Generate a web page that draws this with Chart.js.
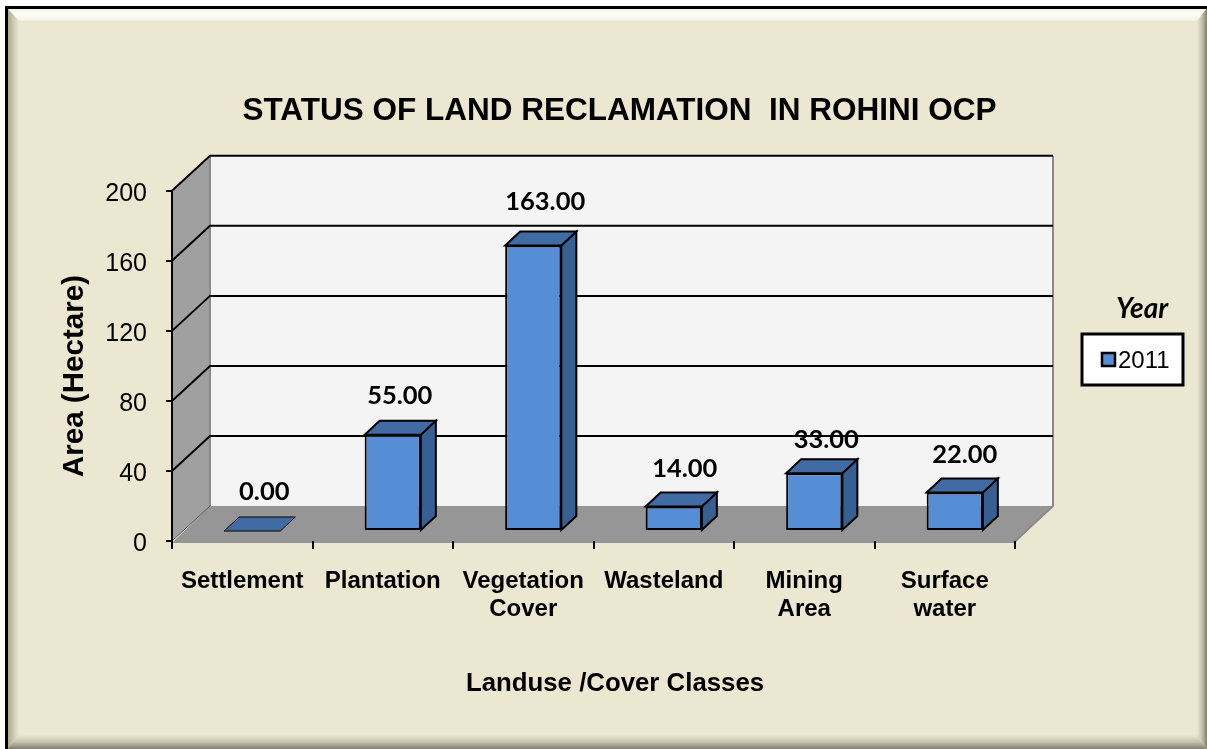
<!DOCTYPE html>
<html>
<head>
<meta charset="utf-8">
<style>
  body { margin: 0; background: #fff; }
  canvas { display: block; }
</style>
<script src="https://cdn.jsdelivr.net/npm/chart.js@4"></script>
</head>
<body>
<canvas id="myChart" width="1207" height="749"></canvas>
<script>
const categories = [['Settlement'], ['Plantation'], ['Vegetation', 'Cover'], ['Wasteland'], ['Mining', 'Area'], ['Surface', 'water']];
const seriesName = '2011';
const areaValues = [0, 55, 163, 14, 33, 22];
const yMax = 200;
const yStep = 40;

const sans = '"Liberation Sans", Arial, sans-serif';
const wallDepth = { x: 38, y: 35 };
const barDepth = { x: 15, y: 14 };
const barShift = { x: 10, y: -10 };
const labelNudgeX = [1, -4, 1, 0, 1, -1];
const labelNudgeY = [0, 0, -5, 1, 6, 1];

function poly(c, pts, fill, stroke, lw) {
  c.beginPath();
  pts.forEach((p, i) => i ? c.lineTo(p[0], p[1]) : c.moveTo(p[0], p[1]));
  c.closePath();
  if (fill) { c.fillStyle = fill; c.fill(); }
  if (stroke) { c.strokeStyle = stroke; c.lineWidth = lw; c.stroke(); }
}

function grad(c, x0, y0, x1, y1, stops) {
  const g = c.createLinearGradient(x0, y0, x1, y1);
  stops.forEach((s, i) => g.addColorStop(i / (stops.length - 1), s));
  return g;
}

// beige panel with bevelled edges
const framePlugin = {
  id: 'frame',
  beforeDraw(chart) {
    const c = chart.ctx;
    const L = 7, T = 8, R = 1207, B = 749;
    const bl = 12, bt = 13, br = 10, bb = 14;
    c.save();
    c.fillStyle = '#ece7d1';
    c.fillRect(L, T, R - L, B - T);
    poly(c, [[L, T], [R, T], [R - br, T + bt], [L + bl, T + bt]], grad(c, 0, T, 0, T + bt, ['#f4f1e4', '#fefdf8', '#f4f1e2']));
    poly(c, [[L, T], [L + bl, T + bt], [L + bl, B - bb], [L, B]], grad(c, L, 0, L + bl, 0, ['#a9a68f', '#c9c6ae', '#ece7d1']));
    poly(c, [[R, T], [R, B], [R - br, B - bb], [R - br, T + bt]], grad(c, R - br, 0, R, 0, ['#ece7d1', '#c5c2ab', '#807e6f']));
    poly(c, [[L, B], [R, B], [R - br, B - bb], [L + bl, B - bb]], grad(c, 0, B - bb, 0, B, ['#ece7d1', '#c5c2ab', '#807e6f']));
    c.strokeStyle = '#000';
    c.lineWidth = 3;
    c.beginPath();
    c.moveTo(6.5, B);
    c.lineTo(6.5, 7.5);
    c.lineTo(R, 7.5);
    c.stroke();
    c.restore();
  }
};

// back wall, side wall and floor, placed from the axis scales
const wallsPlugin = {
  id: 'walls',
  beforeDraw(chart) {
    const c = chart.ctx;
    const { left, right, top, bottom } = chart.chartArea;
    const dx = wallDepth.x, dy = wallDepth.y;
    const y = chart.scales.y;
    c.save();
    poly(c, [[left + dx, top - dy], [right + dx, top - dy], [right + dx, bottom - dy], [left + dx, bottom - dy]], '#f4f4f4');
    poly(c, [[left, top], [left + dx, top - dy], [left + dx, bottom - dy], [left, bottom]], '#a0a0a0');
    poly(c, [[left, bottom + 2], [left + dx, bottom - dy], [right + dx, bottom - dy], [right, bottom + 2]], '#969696');
    c.strokeStyle = '#8a8a8a';
    c.lineWidth = 2;
    c.beginPath();
    c.moveTo(left + dx, top - dy);
    c.lineTo(left + dx, bottom - dy);
    c.moveTo(right + dx, top - dy);
    c.lineTo(right + dx, bottom - dy);
    c.lineTo(right, bottom);
    c.stroke();
    c.strokeStyle = '#555';
    c.lineWidth = 1;
    c.beginPath();
    c.moveTo(left, bottom);
    c.lineTo(left + dx, bottom - dy);
    c.stroke();
    c.strokeStyle = '#000';
    c.lineWidth = 2;
    y.ticks.forEach(t => {
      if (t.value === 0) return;
      const py = y.getPixelForValue(t.value);
      c.beginPath();
      c.moveTo(left, py);
      c.lineTo(left + dx, py - dy);
      c.lineTo(right + dx, py - dy);
      c.stroke();
    });
    c.restore();
  }
};

// side and top faces on the library's bars, value labels over them
const barsPlugin = {
  id: 'bars3d',
  beforeDatasetsDraw(chart) {
    chart.ctx.save();
    chart.ctx.translate(barShift.x, barShift.y);
  },
  afterDatasetsDraw(chart) {
    const c = chart.ctx;
    const meta = chart.getDatasetMeta(0);
    const dx = barDepth.x, dy = barDepth.y;
    meta.data.forEach(bar => {
      const l = bar.x - bar.width / 2, r = bar.x + bar.width / 2;
      const flat = bar.base - bar.y === 0;
      if (!flat) {
        poly(c, [[r, bar.y], [r + dx, bar.y - dy], [r + dx, bar.base - dy], [r, bar.base]], '#376092', '#000', 2);
      }
      poly(c, [[l, bar.y], [l + dx, bar.y - dy], [r + dx, bar.y - dy], [r, bar.y]], '#406ca3', '#000', flat ? 1 : 2);
    });
    c.restore();

    c.save();
    c.fillStyle = '#000';
    c.font = 'bold 25.5px Lato, sans-serif';
    c.textAlign = 'center';
    c.textBaseline = 'middle';
    meta.data.forEach((bar, i) => {
      const v = chart.data.datasets[0].data[i];
      c.fillText(v.toFixed(2), bar.x + barShift.x + 11 + labelNudgeX[i], bar.y + barShift.y - 39 + labelNudgeY[i]);
    });
    c.restore();
  }
};

// axis captions and the boxed legend
const sideTextPlugin = {
  id: 'sideText',
  afterLayout(chart) {
    chart.titleBlock.left += 112;
    chart.titleBlock.right += 112;
  },
  afterDraw(chart) {
    const c = chart.ctx;
    c.save();
    c.fillStyle = '#000';
    c.textBaseline = 'middle';
    c.textAlign = 'center';
    c.font = 'bold 25.8px ' + sans;
    c.fillText('Landuse /Cover Classes', 615, 684);
    c.save();
    c.translate(75, 376);
    c.rotate(-Math.PI / 2);
    c.font = 'bold 29.6px ' + sans;
    c.fillText('Area (Hectare)', 0, 0);
    c.restore();
    c.font = 'italic bold 28px Lato, sans-serif';
    c.fillText('Year', 1142, 309);
    c.fillStyle = '#fff';
    c.fillRect(1082, 334, 101, 51);
    c.strokeStyle = '#000';
    c.lineWidth = 3;
    c.strokeRect(1082, 334, 101, 51);
    c.fillStyle = '#558ed5';
    c.fillRect(1102, 353, 13, 13);
    c.lineWidth = 2.5;
    c.strokeRect(1102, 353, 13, 13);
    c.fillStyle = '#000';
    c.textAlign = 'left';
    c.font = '24px ' + sans;
    c.fillText(chart.data.datasets[0].label, 1118, 361);
    c.restore();
  }
};

new Chart(document.getElementById('myChart'), {
  type: 'bar',
  data: {
    labels: categories,
    datasets: [{
      label: seriesName,
      data: areaValues,
      backgroundColor: '#558ed5',
      borderColor: '#000',
      borderWidth: 2,
      borderSkipped: false,
      barPercentage: 0.4,
      categoryPercentage: 1
    }]
  },
  plugins: [framePlugin, wallsPlugin, barsPlugin, sideTextPlugin],
  options: {
    responsive: false,
    animation: false,
    layout: { padding: { right: 192 } },
    plugins: {
      legend: { display: false },
      tooltip: { enabled: false },
      title: {
        display: true,
        text: 'STATUS OF LAND RECLAMATION  IN ROHINI OCP',
        color: '#000',
        font: { family: sans, size: 31.5, weight: 'bold' },
        padding: { top: 92, bottom: 61 }
      }
    },
    scales: {
      x: {
        afterFit(s) { s.height = 208; },
        border: { color: '#000', width: 0 },
        grid: { drawOnChartArea: false, color: '#000', lineWidth: 2, tickLength: 8, offset: true },
        ticks: {
          color: '#000',
          maxRotation: 0,
          autoSkip: false,
          padding: 18,
          font: { family: sans, size: 24, weight: 'bold', lineHeight: 1.17 }
        }
      },
      y: {
        min: 0,
        max: yMax,
        afterFit(s) { s.width = 172; },
        border: { color: '#000', width: 2 },
        grid: { drawOnChartArea: false, color: '#000', lineWidth: 2, tickLength: 6 },
        ticks: {
          stepSize: yStep,
          color: '#000',
          padding: 19,
          labelOffset: 3,
          font: { family: sans, size: 25 }
        }
      }
    }
  }
});
</script>
</body>
</html>
